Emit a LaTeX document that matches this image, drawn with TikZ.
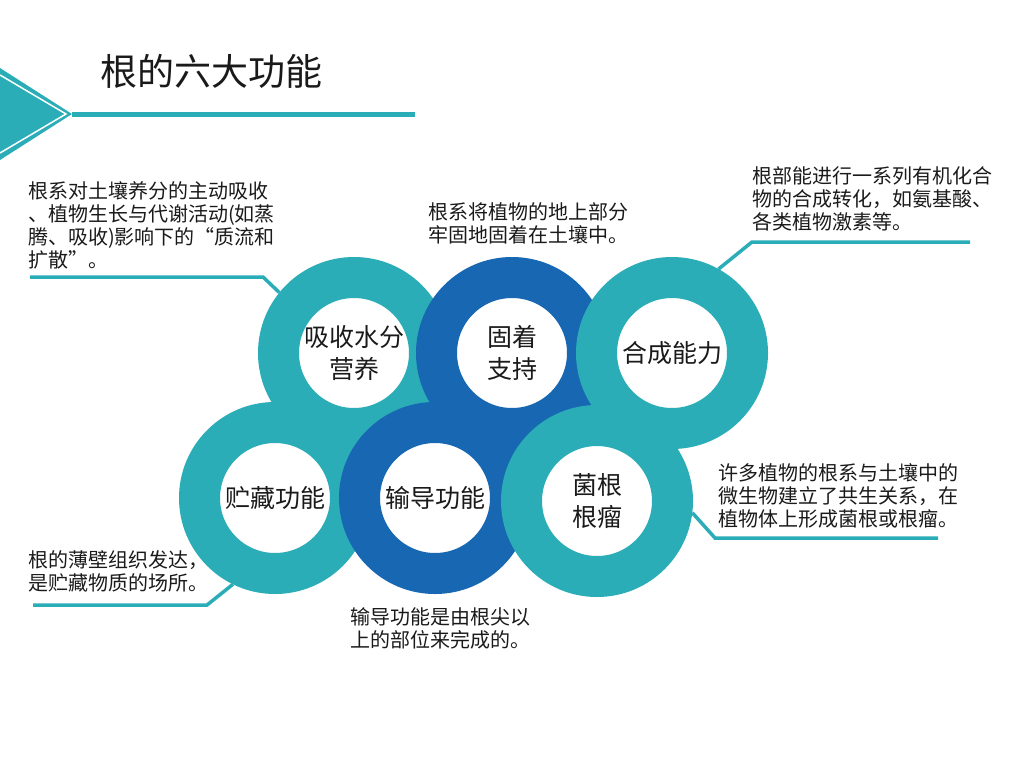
\documentclass[tikz,border=0pt]{standalone}
\usepackage{fontspec}
\setmainfont{Noto Sans CJK SC}
\definecolor{rootteal}{HTML}{2BADB8}
\definecolor{rootblue}{HTML}{1767B2}
\definecolor{inktext}{HTML}{1A1A1A}
\tikzset{
  ring/.style={circle, draw=#1, line width=41pt, minimum size=151pt, fill=white,
    inner sep=0pt, align=center, text=inktext, font=\fontsize{25}{32}\selectfont},
  note/.style={anchor=north west, align=left, inner sep=0pt, text=inktext,
    font=\fontsize{20}{23}\selectfont},
  lead/.style={rootteal, line width=3.5pt},
}
\begin{document}
\begin{tikzpicture}[x=1pt, y=-1pt]
    \useasboundingbox (0,0) rectangle (1024,768);

    % Header mark and title
    \fill[rootteal] (0,68) -- (72,114) -- (0,160) -- cycle;
    \draw[white, line width=1.5pt] (0,75) -- (66,114) -- (0,153);
    \draw[rootteal, line width=5pt] (72,114) -- (415,114);
    \node[text=inktext, font=\fontsize{37}{40}\selectfont] (title) at (211,71) {根的六大功能};

    % Six rings, top row then bottom row
    \node[ring=rootteal] (xishou)  at (354,353) {吸收水分\\营养};
    \node[ring=rootblue] (guzhuo)  at (512,353) {固着\\支持};
    \node[ring=rootteal] (hecheng) at (672,353) {合成能力};
    \node[ring=rootteal] (zhucang) at (275,498) {贮藏功能};
    \node[ring=rootblue] (shudao)  at (435,498) {输导功能};
    \node[ring=rootteal] (junyin)  at (597,501) {菌根\\根瘤};

    % Notes
    \node[note] (n1) at (28,181) {根系对土壤养分的主动吸收\\、植物生长与代谢活动(如蒸\\腾、吸收)影响下的“质流和\\扩散”。};
    \node[note] (n2) at (752,166) {根部能进行一系列有机化合\\物的合成转化，如氨基酸、\\各类植物激素等。};
    \node[note] (n3) at (428,202) {根系将植物的地上部分\\牢固地固着在土壤中。};
    \node[note] (n4) at (718,463) {许多植物的根系与土壤中的\\微生物建立了共生关系，在\\植物体上形成菌根或根瘤。};
    \node[note] (n5) at (28,550) {根的薄壁组织发达，\\是贮藏物质的场所。};
    \node[note] (n6) at (350,607) {输导功能是由根尖以\\上的部位来完成的。};

    % Leader lines
    \coordinate (e1) at (30,277);
    \coordinate (e2) at (970,242);
    \coordinate (e3) at (33,605);
    \coordinate (e4) at (938,538);
    \draw[lead] (e1) -- ++(233,0) -- (xishou.141);
    \draw[lead] (e2) -- ++(-218,0) -- (hecheng.61);
    \draw[lead] (e3) -- ++(174,0) -- (zhucang.244);
    \draw[lead] (e4) -- ++(-223,0) -- (junyin.353);
\end{tikzpicture}
\end{document}
